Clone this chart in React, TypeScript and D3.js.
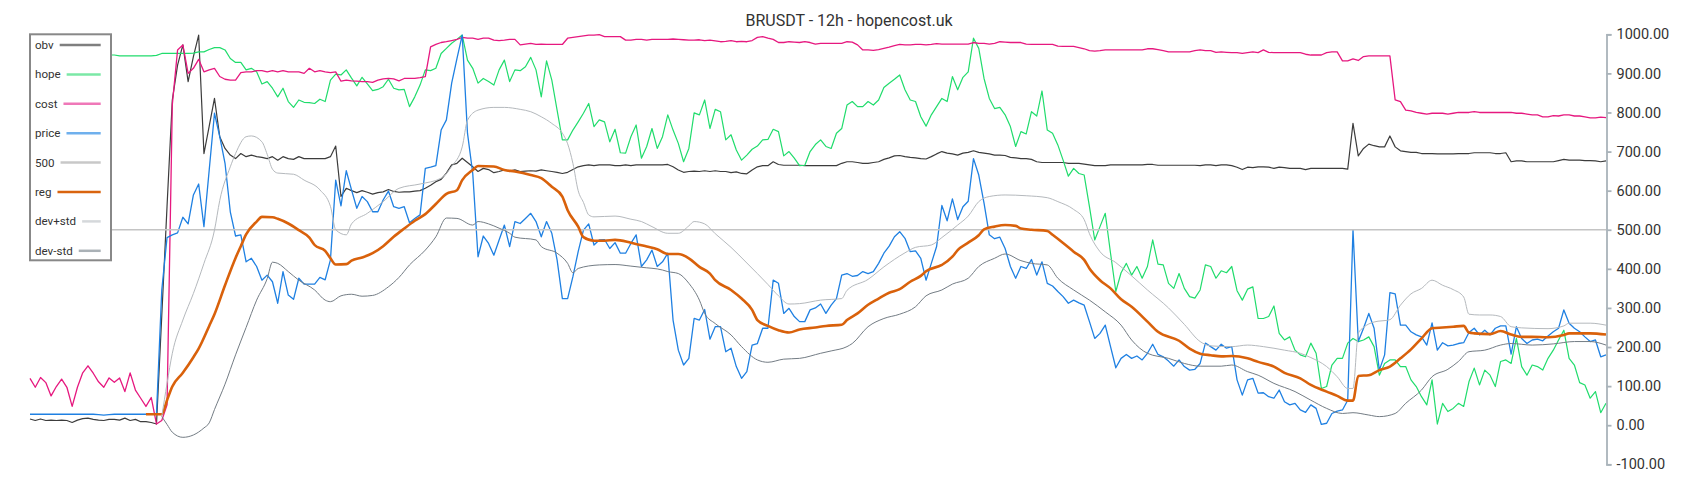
import React, { useEffect, useRef } from "react";
import * as d3 from "d3";

const TITLE = "BRUSDT - 12h - hopencost.uk";
const N = 300;
const Y_TICKS = [-100, 0, 100, 200, 300, 400, 500, 600, 700, 800, 900, 1000];
const LEVEL = 500;

const obv = [
  16,12,16,12,13,12,13,12,7,13,
  17,18,15,13,12,15,15,13,18,12,
  15,9,9,7,3,280,560,832,921,973,
  879,943,998,695,765,836,738,708,691,682,
  695,687,691,687,685,682,687,678,687,682,
  680,687,682,682,682,682,682,687,714,585,
  606,600,595,600,596,591,595,597,603,598,
  596,597,597,599,600,606,614,623,629,645,
  666,670,683,672,661,649,657,654,646,649,
  653,650,653,649,650,651,650,653,651,649,
  647,644,647,654,661,664,666,664,666,666,
  666,664,664,666,664,666,666,666,666,666,
  666,667,661,653,647,649,650,649,651,649,
  651,649,649,646,648,644,643,653,661,664,
  664,674,667,665,665,665,665,664,664,664,
  664,664,664,664,670,674,674,672,670,670,
  672,674,680,684,689,690,687,685,684,682,
  681,687,694,700,696,694,691,696,698,702,
  698,696,694,691,691,690,685,684,682,682,
  680,674,672,672,672,672,672,670,670,670,
  668,666,664,664,664,666,666,666,666,666,
  666,666,667,667,665,665,665,665,665,665,
  665,665,664,666,666,664,666,666,664,660,
  654,660,659,661,661,660,657,660,659,657,
  657,657,654,657,657,657,657,657,657,657,
  655,772,689,708,719,715,712,712,740,712,
  702,700,698,698,695,695,695,694,694,694,
  694,695,695,695,697,697,697,697,695,695,
  697,674,676,676,674,674,674,674,674,674,
  677,680,678,678,678,677,677,676,674,676,
];

const hope = [
  947,947,947,947,947,947,947,947,947,947,
  947,947,947,947,947,947,947,945,945,945,
  945,945,945,945,946,951,951,951,951,951,
  951,952,955,955,961,966,966,960,938,928,
  928,909,913,904,873,879,862,840,862,828,
  813,832,826,825,823,834,828,883,898,896,
  909,888,868,890,873,856,859,866,885,862,
  858,859,815,840,870,909,907,913,951,964,
  977,987,998,934,913,875,887,879,870,909,
  934,879,909,907,917,941,909,840,932,883,
  806,730,730,755,776,798,823,764,781,776,
  725,757,697,696,738,768,683,713,759,708,
  738,794,755,721,674,708,799,794,832,759,
  808,802,730,743,704,678,691,706,714,730,
  731,757,751,689,700,683,664,665,700,718,
  730,713,708,747,759,819,828,815,815,828,
  819,832,864,875,885,896,858,832,828,789,
  765,794,815,836,828,892,858,890,904,990,
  964,887,836,810,813,794,764,713,751,745,
  802,791,855,755,747,717,678,637,657,644,
  640,559,474,508,542,440,342,390,414,384,
  406,376,406,474,412,410,363,350,388,350,
  329,325,346,410,406,376,395,390,406,344,
  320,348,354,273,273,278,305,235,218,226,
  192,180,175,210,184,94,99,154,171,171,
  210,222,214,218,226,201,128,158,167,167,
  150,150,116,99,73,52,116,3,56,35,
  43,56,48,111,146,103,141,128,99,163,
  167,158,222,150,128,154,150,141,171,192,
  218,243,171,154,109,103,69,86,32,56,
];

const cost = [
  120,97,122,109,75,99,118,97,48,97,
  134,152,133,111,97,121,110,121,86,134,
  90,69,48,71,3,12,52,820,960,973,
  900,913,936,904,909,913,892,885,883,883,
  902,904,904,907,907,904,907,904,907,904,
  904,904,900,913,904,907,904,902,904,880,
  883,881,880,879,879,877,883,886,887,886,
  881,887,887,887,889,892,968,974,979,981,
  984,987,992,990,990,987,990,990,985,984,
  985,987,987,973,975,977,974,975,974,974,
  974,974,990,992,994,996,998,998,999,994,
  994,994,994,985,985,987,987,985,987,987,
  987,987,988,987,986,985,985,986,984,985,
  983,981,982,984,981,982,981,984,992,994,
  990,987,979,979,981,980,979,981,979,975,
  977,977,977,977,977,981,980,973,960,960,
  959,961,964,967,971,974,973,973,974,974,
  973,974,976,975,975,975,975,975,975,979,
  977,977,975,977,981,980,979,979,979,975,
  974,974,974,974,974,970,969,969,969,966,
  963,958,957,958,960,960,960,960,960,960,
  960,960,963,963,961,958,955,955,955,955,
  955,958,960,958,958,954,955,954,953,953,
  951,953,955,953,960,954,953,953,953,953,
  953,953,949,947,947,947,953,955,955,932,
  932,937,933,943,945,945,945,945,945,832,
  828,806,804,800,798,796,798,798,798,796,
  798,800,800,800,802,800,800,800,800,800,
  800,800,798,798,796,794,794,789,789,792,
  791,794,794,791,791,789,786,786,788,787,
];

const price = [
  28,28,28,28,28,28,28,28,28,28,
  28,28,28,27,26,27,28,28,28,28,
  28,28,28,28,30,346,480,487,492,532,
  515,589,617,508,653,798,738,670,546,484,
  487,418,427,406,371,384,367,312,393,333,
  322,376,361,361,361,378,372,423,627,561,
  651,602,555,585,572,546,546,576,599,559,
  555,559,518,529,538,657,660,664,755,781,
  875,938,998,747,644,431,484,465,435,474,
  512,457,521,516,529,542,521,482,521,491,
  423,324,324,380,444,499,515,461,474,475,
  452,467,440,440,465,487,406,423,448,406,
  418,440,269,192,154,171,273,269,296,220,
  252,252,188,197,150,120,137,205,209,248,
  248,371,363,286,299,278,265,265,295,300,
  310,286,307,324,384,388,381,383,393,388,
  393,414,440,458,482,495,478,444,446,427,
  371,414,457,562,523,579,526,559,573,682,
  640,568,487,477,481,452,406,376,406,401,
  424,384,418,363,356,342,329,312,320,313,
  307,265,222,235,256,201,147,171,181,171,
  177,167,184,207,181,175,164,151,167,150,
  141,143,158,210,201,192,207,197,201,116,
  77,116,120,82,83,73,69,90,60,52,
  56,39,33,52,43,2,5,30,36,39,
  64,500,214,248,286,248,141,180,339,336,
  256,256,239,231,226,205,262,192,211,203,
  205,209,211,237,248,231,243,231,248,254,
  254,182,252,222,209,218,220,216,228,239,
  248,295,261,248,239,226,214,218,175,180,
];

// smooth series: [candle index, value]
const reg: [number, number][] = [
  [22,28],[25,28],[26,64],[27,99],[29,134],[31,174],[32,196],[34,254],[35,284],[37,358],
  [39,428],[40,458],[41,488],[43,521],[44,533],[46,532],[47,528],[49,516],[51,499],[53,480],
  [54,461],[56,446],[57,427],[58,411],[60,412],[61,421],[63,429],[65,440],[67,458],[69,482],
  [71,503],[73,523],[75,540],[77,566],[79,592],[81,601],[82,627],[84,653],[85,663],[88,662],
  [90,653],[92,649],[95,640],[97,632],[99,610],[101,585],[102,550],[104,508],[105,481],[107,472],
  [109,472],[111,474],[114,467],[117,457],[119,450],[121,438],[123,438],[125,427],[127,405],[129,388],
  [130,371],[133,346],[135,324],[137,295],[138,269],[140,254],[142,243],[144,237],[146,245],[149,250],
  [151,254],[154,257],[155,269],[157,286],[159,308],[161,324],[163,339],[165,348],[167,367],[169,382],
  [170,394],[173,410],[175,431],[176,448],[178,467],[180,486],[181,501],[183,508],[185,512],[187,510],
  [188,503],[190,500],[193,497],[194,487],[196,466],[198,444],[200,423],[201,401],[203,371],[205,350],
  [207,322],[209,303],[212,265],[214,239],[218,216],[220,196],[222,183],[224,179],[226,176],[228,177],
  [231,171],[233,162],[236,150],[238,134],[241,120],[243,103],[246,86],[248,75],[250,63],[251,63],
  [252,126],[254,128],[256,141],[258,150],[260,171],[262,194],[264,222],[266,248],[268,250],[270,252],
  [272,254],[273,237],[274,235],[277,233],[279,241],[281,232],[283,226],[285,226],[288,225],[291,231],
  [292,235],[296,235],[299,232],
];

const devPlus: [number, number][] = [
  [25,22],[26,107],[27,184],[29,269],[31,337],[33,414],[35,499],[36,575],[38,661],[39,695],
  [41,738],[42,740],[44,725],[45,693],[46,655],[47,645],[50,642],[52,627],[55,602],[57,560],
  [58,500],[60,487],[61,515],[64,542],[67,572],[70,606],[74,617],[78,632],[80,662],[82,712],
  [83,780],[85,806],[88,813],[90,813],[93,808],[95,802],[97,789],[99,772],[101,747],[102,720],
  [103,670],[104,600],[105,570],[106,538],[107,533],[111,535],[114,527],[116,521],[118,508],[121,491],
  [123,491],[125,510],[126,521],[128,515],[130,490],[133,455],[136,415],[140,360],[142,331],[144,310],
  [146,311],[150,320],[154,324],[155,345],[159,373],[162,405],[166,441],[168,455],[171,461],[173,480],
  [176,512],[178,535],[180,572],[182,585],[185,589],[189,587],[193,582],[195,572],[198,552],[200,526],
  [201,490],[203,444],[206,416],[209,382],[212,346],[216,300],[219,258],[222,214],[224,203],[228,201],
  [231,205],[234,201],[238,192],[241,184],[243,173],[246,150],[248,124],[250,94],[251,94],[252,235],
  [253,250],[255,264],[258,270],[260,307],[262,336],[264,350],[266,371],[268,358],[270,347],[272,328],
  [273,284],[275,282],[277,282],[279,278],[281,252],[283,249],[288,247],[291,254],[292,261],[296,261],
  [299,256],
];

const devMinus: [number, number][] = [
  [25,22],[26,2],[27,-18],[29,-31],[31,-25],[33,-7],[34,6],[35,40],[37,105],[39,180],
  [41,250],[43,320],[45,375],[46,417],[47,414],[49,393],[51,371],[54,346],[56,320],[57,316],
  [59,331],[61,335],[63,330],[65,332],[68,354],[70,378],[72,410],[75,448],[77,482],[79,530],
  [81,529],[84,512],[85,521],[87,515],[89,504],[91,491],[92,481],[96,474],[97,457],[100,440],
  [102,414],[103,390],[104,401],[108,410],[111,411],[114,407],[116,404],[120,397],[121,393],[123,388],
  [125,363],[127,320],[128,286],[130,260],[133,231],[135,201],[138,167],[140,161],[143,169],[146,171],
  [150,184],[152,190],[155,201],[156,209],[159,252],[162,273],[165,284],[168,303],[170,331],[173,346],
  [175,361],[178,376],[180,406],[183,427],[185,438],[188,421],[190,414],[193,410],[195,376],[198,346],
  [201,320],[204,290],[207,256],[209,218],[212,184],[216,171],[219,158],[222,151],[226,151],[228,154],
  [231,137],[233,128],[236,107],[240,86],[243,64],[246,43],[249,30],[251,32],[254,26],[256,22],
  [259,30],[261,56],[264,90],[266,124],[269,143],[271,163],[273,188],[276,192],[279,205],[281,209],
  [285,205],[289,208],[293,214],[296,214],[299,205],
];

const LEGEND = [
  { name: "obv", color: "#7f7f7f" },
  { name: "hope", color: "#7be8a6" },
  { name: "cost", color: "#ef78b8" },
  { name: "price", color: "#6fb0ed" },
  { name: "500", color: "#c8c8c8" },
  { name: "reg", color: "#d9640f" },
  { name: "dev+std", color: "#d5d8db" },
  { name: "dev-std", color: "#aab1b6" },
];

const FONT = "Roboto, 'DejaVu Sans', sans-serif";

export default function App() {
  const ref = useRef<SVGSVGElement>(null);

  useEffect(() => {
    const svg = d3.select(ref.current);
    svg.selectAll("*").remove();

    const x = d3.scaleLinear().domain([0, N - 1]).range([30, 1606]);
    const y = d3.scaleLinear().domain([-100, 1000]).range([464.3, 34.3]);

    const dense = (arr: number[], color: string, w: number) => {
      const line = d3
        .line<number>()
        .x((_, i) => x(i))
        .y((d) => y(d));
      svg
        .append("path")
        .attr("d", line(arr) as string)
        .attr("fill", "none")
        .attr("stroke", color)
        .attr("stroke-width", w)
        .attr("stroke-linejoin", "round");
    };
    const smooth = (arr: [number, number][], color: string, w: number) => {
      const line = d3
        .line<[number, number]>()
        .x((d) => x(d[0]))
        .y((d) => y(d[1]))
        .curve(d3.curveMonotoneX);
      svg
        .append("path")
        .attr("d", line(arr) as string)
        .attr("fill", "none")
        .attr("stroke", color)
        .attr("stroke-width", w)
        .attr("stroke-linejoin", "round");
    };

    dense(obv, "#3c3c3c", 1.2);
    dense(hope, "#20dc6c", 1.2);
    dense(cost, "#e6187f", 1.3);
    dense(price, "#1f80e2", 1.3);
    svg
      .append("line")
      .attr("x1", x(0))
      .attr("x2", x(N - 1))
      .attr("y1", y(LEVEL))
      .attr("y2", y(LEVEL))
      .attr("stroke", "#c4c4c4")
      .attr("stroke-width", 1.5);
    smooth(reg, "#d9610b", 2.6);
    smooth(devPlus, "#b5b9bd", 1);
    smooth(devMinus, "#737c84", 1);

    // axis
    const axis = d3
      .axisRight(y)
      .tickValues(Y_TICKS)
      .tickFormat((d) => (d as number).toFixed(2))
      .tickSize(5)
      .tickPadding(5);
    const g = svg.append("g").attr("transform", "translate(1606.5,0)").call(axis);
    g.selectAll("path,line").attr("stroke", "#a9b3ba").attr("stroke-width", 1.8);
    g.selectAll("text")
      .attr("fill", "#333")
      .style("font-family", FONT)
      .style("font-size", "14.5px");

    // title
    svg
      .append("text")
      .attr("x", 849)
      .attr("y", 26)
      .attr("text-anchor", "middle")
      .style("font-family", FONT)
      .style("font-size", "16px")
      .attr("fill", "#333")
      .text(TITLE);

    // legend
    const lg = svg.append("g");
    lg.append("rect")
      .attr("x", 30)
      .attr("y", 34.3)
      .attr("width", 81)
      .attr("height", 226)
      .attr("fill", "#fff")
      .attr("stroke", "#888")
      .attr("stroke-width", 2);
    LEGEND.forEach((item, k) => {
      const cy = 45 + 29.4 * k;
      const t = lg
        .append("text")
        .attr("x", 35)
        .attr("y", cy + 4)
        .attr("fill", "#333")
        .style("font-family", FONT)
        .style("font-size", "11.6px")
        .text(item.name);
      const w = (t.node() as SVGTextElement).getComputedTextLength();
      lg.append("line")
        .attr("x1", 35 + w + 6)
        .attr("x2", 100.7)
        .attr("y1", cy)
        .attr("y2", cy)
        .attr("stroke", item.color)
        .attr("stroke-width", 2.5);
    });
  }, []);

  return (
    <svg
      ref={ref}
      width={1700}
      height={500}
      style={{ position: "absolute", left: 0, top: 0, background: "#fff" }}
    />
  );
}
